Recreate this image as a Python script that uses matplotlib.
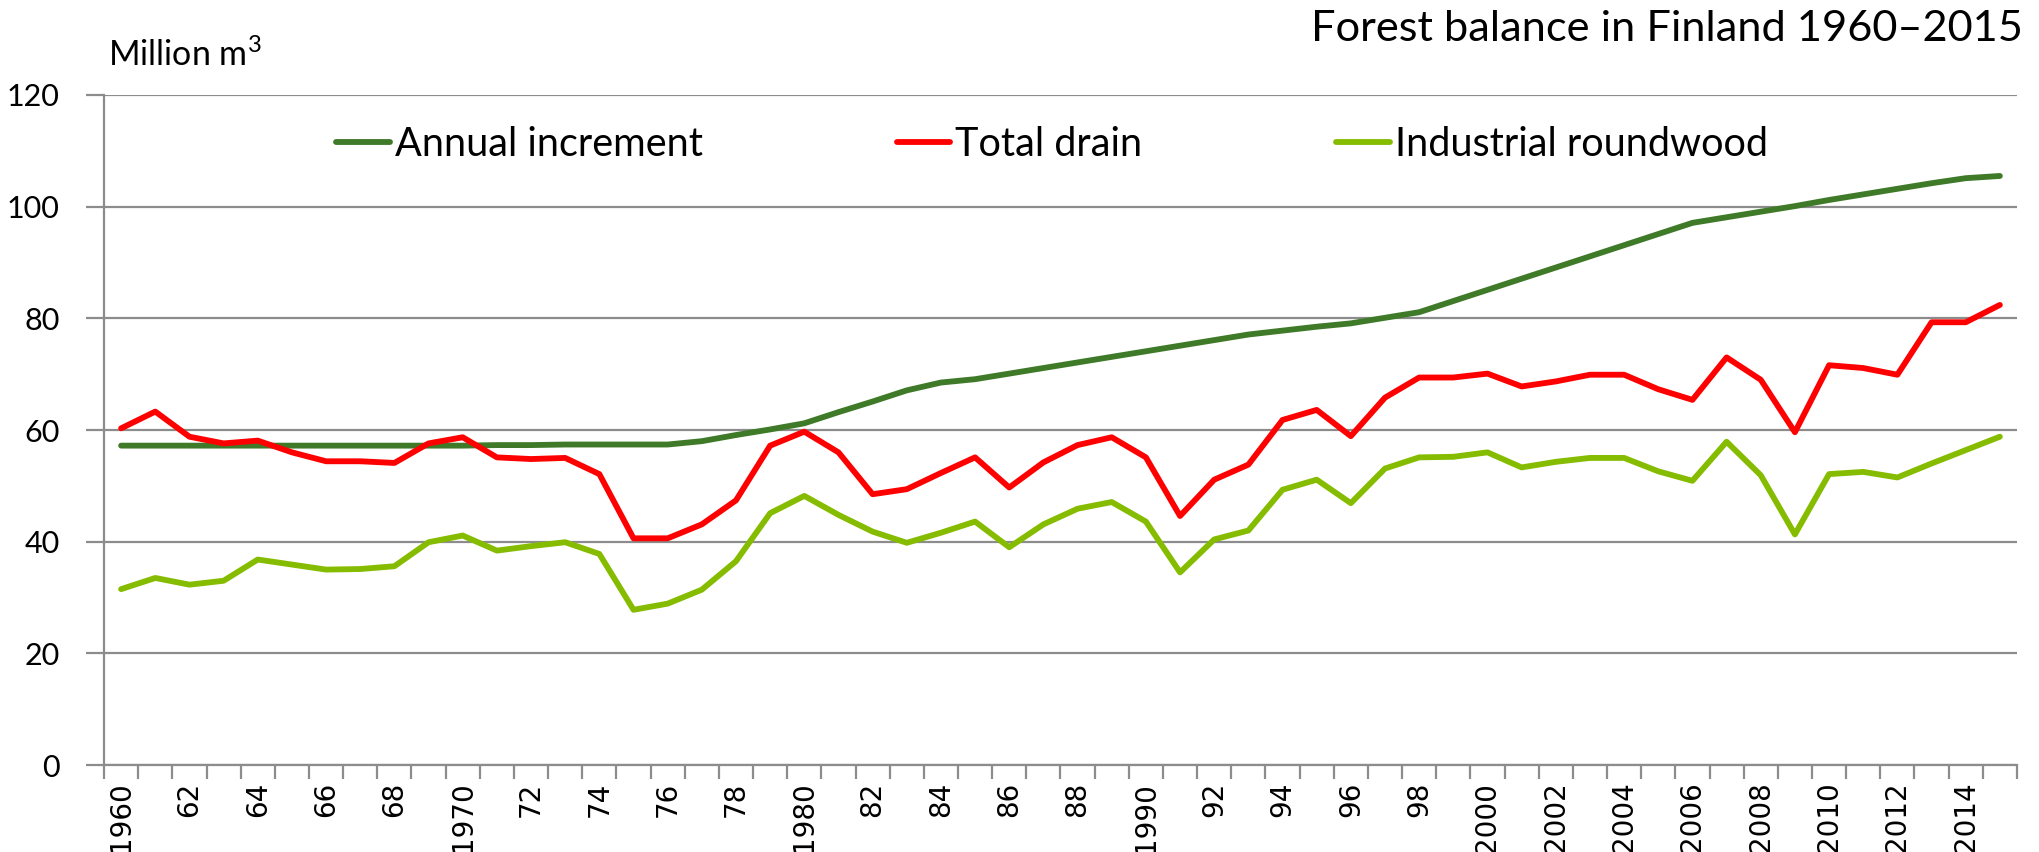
import matplotlib
matplotlib.use("Agg")
import matplotlib.pyplot as plt
import numpy as np

years = list(range(1960, 2016))

annual_increment = [
    57.2, 57.2, 57.2, 57.2, 57.2, 57.2, 57.2, 57.2, 57.2, 57.2, 57.2,
    57.3, 57.3, 57.4, 57.4, 57.4, 57.4, 58.0, 59.1, 60.1,
    61.2, 63.2, 65.1, 67.1, 68.5, 69.1, 70.1, 71.1, 72.1, 73.1,
    74.1, 75.1, 76.1, 77.1, 77.8, 78.5, 79.1, 80.1, 81.1, 83.1,
    85.1, 87.1, 89.1, 91.1, 93.1, 95.1, 97.1, 98.1, 99.1, 100.1,
    101.2, 102.2, 103.2, 104.2, 105.1, 105.5,
]

total_drain = [
    60.3, 63.3, 58.8, 57.6, 58.1, 56.0, 54.4, 54.4, 54.1, 57.6, 58.7,
    55.1, 54.8, 55.0, 52.1, 40.6, 40.6, 43.1, 47.4, 57.2,
    59.7, 56.0, 48.5, 49.4, 52.3, 55.1, 49.7, 54.2, 57.3, 58.7,
    55.1, 44.6, 51.1, 53.8, 61.8, 63.6, 58.9, 65.8, 69.4, 69.4,
    70.1, 67.8, 68.7, 69.9, 69.9, 67.3, 65.4, 73.0, 69.0, 59.6,
    71.6, 71.1, 69.9, 79.3, 79.3, 82.4,
]

industrial_roundwood = [
    31.5, 33.5, 32.3, 33.0, 36.8, 35.9, 35.0, 35.1, 35.6, 39.9, 41.1,
    38.4, 39.2, 39.9, 37.8, 27.8, 28.9, 31.4, 36.5, 45.1,
    48.2, 44.8, 41.8, 39.8, 41.6, 43.6, 39.0, 43.1, 45.9, 47.1,
    43.6, 34.5, 40.4, 42.0, 49.3, 51.1, 46.9, 53.1, 55.1, 55.2,
    56.0, 53.3, 54.3, 55.0, 55.0, 52.6, 50.9, 57.9, 51.9, 41.3,
    52.1, 52.5, 51.5, 54.0, 56.4, 58.8,
]

x_labels = [
    "1960", "62", "64", "66", "68", "1970", "72", "74", "76", "78",
    "1980", "82", "84", "86", "88", "1990", "92", "94", "96", "98",
    "2000", "2002", "2004", "2006", "2008", "2010", "2012", "2014",
]

series_names = ["Annual increment", "Total drain", "Industrial roundwood"]
colors = ["#3F7A28", "#FF0000", "#86BC00"]

plt.rcParams["font.family"] = ["Lato", "DejaVu Sans"]
plt.rcParams["mathtext.fontset"] = "custom"
plt.rcParams["mathtext.rm"] = "Lato"

fig = plt.figure(figsize=(20.4, 8.52), dpi=100)
ax = fig.add_axes([0.051, 0.1021, 0.9377, 0.7864])

pos = np.arange(len(years))
for vals, name, c in zip([annual_increment, total_drain, industrial_roundwood],
                         series_names, colors):
    ax.plot(pos, vals, color=c, lw=4.2, label=name, solid_capstyle="round")

grid_c = "#8C8C8C"
ax.set_xlim(-0.5, len(years) - 0.5)
ax.set_ylim(0, 120)
ax.set_yticks(range(0, 121, 20))
ax.yaxis.grid(True, color=grid_c, lw=1.6)
ax.set_axisbelow(True)
for s in ["top", "right"]:
    ax.spines[s].set_visible(False)
for s in ["left", "bottom"]:
    ax.spines[s].set_color(grid_c)
    ax.spines[s].set_linewidth(1.6)

ax.tick_params(axis="y", length=13, width=1.6, color=grid_c, pad=19,
               labelsize=22)

# year boundary ticks, labels at every second category
ax.set_xticks(np.arange(-0.5, len(years), 1.0))
ax.set_xticklabels([])
ax.tick_params(axis="x", which="major", length=10, width=1.6, color=grid_c)
ax.set_xticks(pos[::2], minor=True)
ax.set_xticklabels(x_labels, minor=True, rotation=90, fontsize=20,
                   family="DejaVu Sans")
ax.tick_params(axis="x", which="minor", length=0, pad=12)

leg = ax.legend(loc="center left", bbox_to_anchor=(336 / 2040, 1 - 144 / 852),
                bbox_transform=fig.transFigure, ncol=3, frameon=False,
                fontsize=28.5, handlelength=1.36, handletextpad=0.12,
                columnspacing=4.9, borderpad=0, borderaxespad=0)

fig.text(0.9917, 0.966, "Forest balance in Finland 1960–2015", ha="right",
         va="center", fontsize=31.2)
fig.text(108 / 2040, 1 - 55 / 852, r"Million m$^{\mathregular{3}}$",
         ha="left", va="center", fontsize=24.5)

fig.savefig("out.png", dpi=100)
